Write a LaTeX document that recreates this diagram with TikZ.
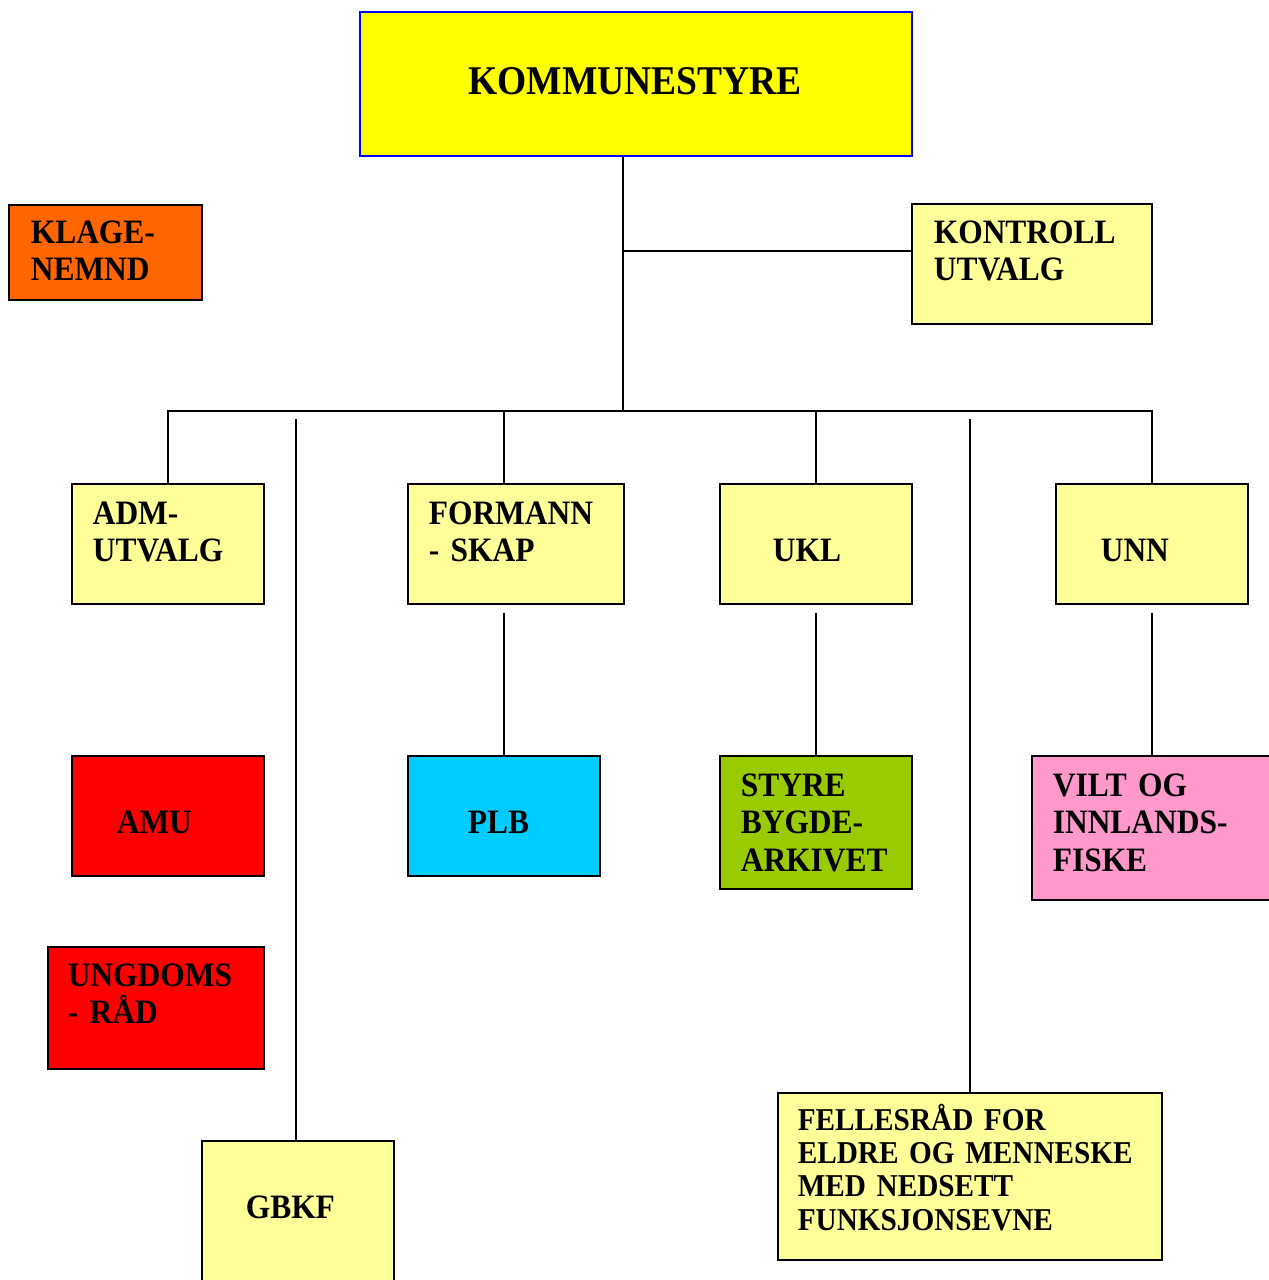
\documentclass[tikz,border=0pt]{standalone}
\usepackage{fontspec}
\setmainfont{Liberation Serif}[FakeStretch=0.92]
\usetikzlibrary{positioning}

\definecolor{topyellow}{HTML}{FFFF00}
\definecolor{topblue}{HTML}{0000FF}
\definecolor{paleyellow}{HTML}{FFFF99}
\definecolor{klageorange}{HTML}{FF6600}
\definecolor{amured}{HTML}{FF0000}
\definecolor{plbcyan}{HTML}{00CCFF}
\definecolor{arkivgreen}{HTML}{99CC00}
\definecolor{viltpink}{HTML}{FF99CC}

\begin{document}
\begin{tikzpicture}[x=1pt, y=-1pt, line width=1.6pt,
    box/.style={draw, rectangle, inner sep=0pt, anchor=north west, fill=paleyellow},
    std/.style={minimum width=192pt, minimum height=120pt},
    txt/.style={anchor=base west, inner sep=0pt, text width=400pt, align=left,
        font=\fontsize{34.2}{37.5}\selectfont\bfseries},
    smalltxt/.style={txt, font=\fontsize{31.8}{33.4}\selectfont\bfseries}]

    \useasboundingbox (0,0) rectangle (1269,1280);

    \node [box, draw=topblue, fill=topyellow, minimum width=552pt, minimum height=144pt] (ks) at (359,11) {};
    \node [box, fill=klageorange, minimum width=193pt, minimum height=95pt] (klage) at (8,204) {};
    \node [box, minimum width=240pt, minimum height=120pt] (kontroll) at (911,203) {};

    \node [box, std] (adm) at (71,483) {};
    \node [box, std, minimum width=216pt] (form) at (407,483) {};
    \node [box, std] (ukl) at (719,483) {};
    \node [box, std] (unn) at (1055,483) {};

    \node [box, std, fill=amured] (amu) at (71,755) {};
    \node [box, std, fill=plbcyan] (plb) at (407,755) {};
    \node [box, std, fill=arkivgreen, minimum height=133pt] (styre) at (719,755) {};
    \node [box, fill=viltpink, minimum width=240pt, minimum height=144pt] (vilt) at (1031,755) {};
    \node [box, fill=amured, minimum width=216pt, minimum height=122pt] (ungd) at (47,946) {};
    \node [box, std, minimum height=160pt] (gbkf) at (201,1140) {};
    \node [box, minimum width=384pt, minimum height=167pt] (fell) at (777,1092) {};

    \node [anchor=base, inner sep=0pt, font=\fontsize{40.8}{44}\selectfont\bfseries] (kstxt) at (635,94) {KOMMUNESTYRE};
    \node [txt] (klagetxt) at (30,243) {KLAGE-\\NEMND};
    \node [txt] (kontrolltxt) at (933,243) {KONTROLL\\UTVALG};
    \node [txt] (admtxt) at (92,524) {ADM-\\UTVALG};
    \node [txt] (formtxt) at (428,524) {FORMANN\\- SKAP};
    \node [txt] (ukltxt) at (772,561) {UKL};
    \node [txt] (unntxt) at (1100,561) {UNN};
    \node [txt] (amutxt) at (116,833) {AMU};
    \node [txt] (plbtxt) at (467,833) {PLB};
    \node [txt] (styretxt) at (740,796) {STYRE\\BYGDE-\\ARKIVET};
    \node [txt] (vilttxt) at (1052,796) {VILT OG\\INNLANDS-\\FISKE};
    \node [txt] (ungdtxt) at (67,986) {UNGDOMS\\- RÅD};
    \node [txt] (gbkftxt) at (245,1218) {GBKF};
    \node [smalltxt] (felltxt) at (797,1130) {FELLESRÅD FOR\\ELDRE OG MENNESKE\\MED NEDSETT\\FUNKSJONSEVNE};

    \coordinate (bus) at (623,411);
    \coordinate (kjoin) at (623,251);
    \coordinate (gtop) at (296,419);

    \draw (bus) -- (bus |- ks.south);
    \draw (kjoin) -- (kjoin -| kontroll.west);
    \draw (adm.north) |- (bus) -| (unn.north);
    \draw (plb.north |- form.north) -- (plb.north |- bus);
    \draw (ukl.north) -- (ukl.north |- bus);
    \draw (gtop) -- (gtop |- gbkf.north);
    \draw (fell.north) -- (fell.north |- gtop);
    \draw [shorten >=8pt] (plb.north) -- (plb.north |- form.south);
    \draw [shorten >=8pt] (styre.north) -- (styre.north |- ukl.south);
    \draw [shorten >=8pt] (vilt.north) -- (vilt.north |- unn.south);
\end{tikzpicture}
\end{document}
